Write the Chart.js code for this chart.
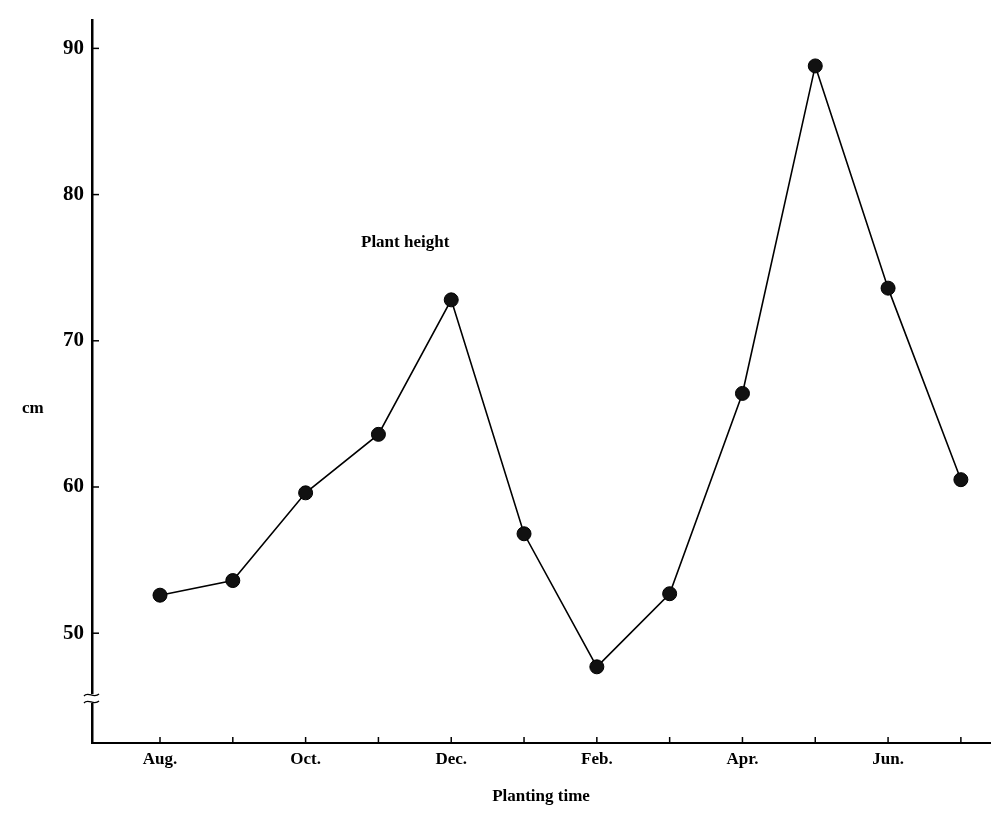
<!DOCTYPE html>
<html lang="en">
<head>
<meta charset="UTF-8">
<title>Plant height by planting time</title>
<script src="https://cdn.jsdelivr.net/npm/chart.js@4.4.0/dist/chart.umd.min.js"></script>
<style>
  html, body { margin: 0; padding: 0; background: #fff; }
  #wrap { width: 998px; height: 836px; }
</style>
</head>
<body>
<div id="wrap"><canvas id="heightChart"></canvas></div>
<script>
// months Aug -> Jul, only every other one gets a label
var months = ["Aug.", "Sep.", "Oct.", "Nov.", "Dec.", "Jan.", "Feb.", "Mar.", "Apr.", "May", "Jun.", "Jul."];
var shownLabels = ["Aug.", "", "Oct.", "", "Dec.", "", "Feb.", "", "Apr.", "", "Jun.", ""];
var plantHeight = [52.6, 53.6, 59.6, 63.6, 72.8, 56.8, 47.7, 52.7, 66.4, 88.8, 73.6, 60.5];
var yTicks = [50, 60, 70, 80, 90];

var serif = "'Liberation Serif', 'DejaVu Serif', serif";

// little inward tick marks, the axis break and the loose labels
var decorations = {
  id: "decorations",
  afterDraw: function (chart) {
    var c = chart.ctx, x = chart.scales.x, y = chart.scales.y;
    var a = chart.chartArea;
    c.save();
    c.strokeStyle = "#000";
    c.lineWidth = 1.5;
    months.forEach(function (m, i) {
      var px = x.getPixelForValue(i);
      c.beginPath();
      c.moveTo(px, a.bottom);
      c.lineTo(px, a.bottom - 6);
      c.stroke();
    });
    yTicks.forEach(function (v) {
      var py = y.getPixelForValue(v);
      c.beginPath();
      c.moveTo(a.left, py);
      c.lineTo(a.left + 7, py);
      c.stroke();
    });

    // axis break
    var by = y.getPixelForValue(45.5);
    c.fillStyle = "#fff";
    c.fillRect(a.left - 3, by - 5, 6, 9);
    c.lineWidth = 1.3;
    [-4, 3].forEach(function (d) {
      c.beginPath();
      c.moveTo(a.left - 8, by + d + 1);
      c.bezierCurveTo(a.left - 4, by + d - 4, a.left + 2, by + d + 4, a.left + 7, by + d - 1);
      c.stroke();
    });

    c.fillStyle = "#000";
    c.font = "bold 17px " + serif;
    c.textAlign = "left";
    c.textBaseline = "middle";
    c.fillText("cm", 22, 409);
    c.fillText("Plant height", 361, 243);
    c.restore();
  }
};

new Chart(document.getElementById("heightChart"), {
  type: "line",
  data: {
    datasets: [{
      label: "Plant height",
      data: plantHeight.map(function (v, i) { return { x: i, y: v }; }),
      borderColor: "#000",
      borderWidth: 1.6,
      backgroundColor: "#111",
      pointBackgroundColor: "#111",
      pointBorderColor: "#000",
      pointRadius: 7,
      pointBorderWidth: 1,
      tension: 0,
      fill: false
    }]
  },
  options: {
    responsive: true,
    maintainAspectRatio: false,
    animation: false,
    layout: { padding: { top: 6, right: 3, left: 0, bottom: 0 } },
    plugins: {
      legend: { display: false },
      tooltip: { enabled: false }
    },
    scales: {
      x: {
        type: "linear",
        min: -0.934,
        max: 11.40,
        afterBuildTicks: function (s) {
          s.ticks = months.map(function (m, i) { return { value: i }; });
        },
        afterFit: function (s) { s.height = 93; },
        grid: { display: false, drawTicks: false },
        border: { display: true, color: "#000", width: 2 },
        ticks: {
          autoSkip: false,
          maxRotation: 0,
          padding: 6,
          color: "#000",
          font: { family: serif, size: 17, weight: "bold" },
          callback: function (v) { return shownLabels[v] || ""; }
        },
        title: {
          display: true,
          text: "Planting time",
          color: "#000",
          font: { family: serif, size: 17, weight: "bold" },
          padding: { top: 0, bottom: 29 }
        }
      },
      y: {
        min: 42.49,
        max: 91.9,
        afterBuildTicks: function (s) {
          s.ticks = yTicks.map(function (v) { return { value: v }; });
        },
        afterFit: function (s) { s.width = 92; },
        grid: { display: false, drawTicks: false },
        border: { display: true, color: "#000", width: 2.5 },
        ticks: {
          padding: 8,
          color: "#000",
          font: { family: serif, size: 21, weight: "bold" }
        }
      }
    }
  },
  plugins: [decorations]
});
</script>
</body>
</html>
